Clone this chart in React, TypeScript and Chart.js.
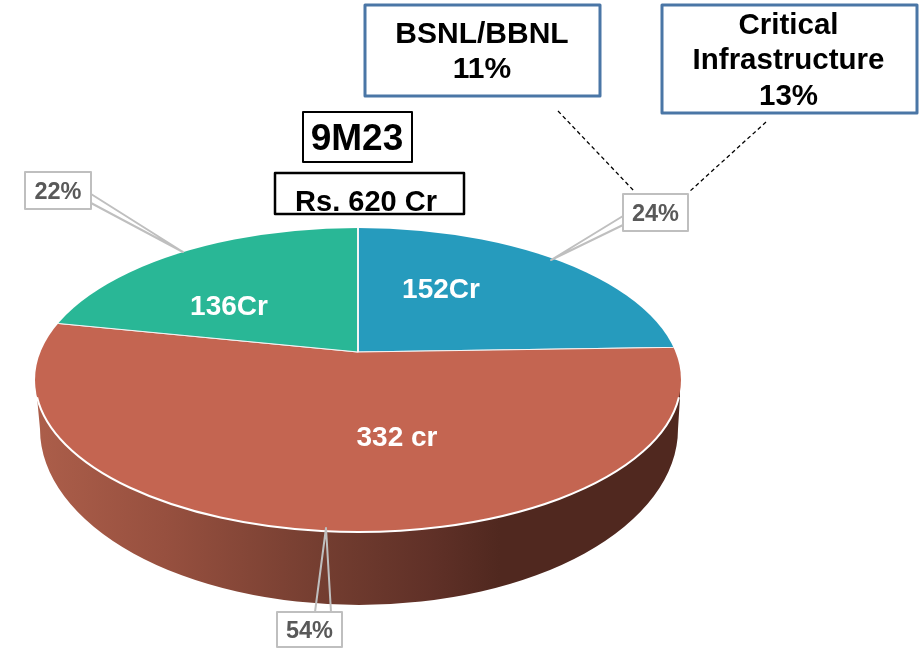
import React, { useEffect, useRef } from "react";
import { Chart, registerables } from "chart.js";

Chart.register(...registerables);

const sliceLabels = ["152Cr", "332 cr", "136Cr"];
const sliceValues = [152, 332, 136];
const sliceColors = ["#269BBD", "#C46551", "#29B796"];
const percentLabels = ["24%", "54%", "22%"];
const bsnlLines = ["BSNL/BBNL", "11%"];
const criticalLines = ["Critical", "Infrastructure", "13%"];
const titleText = "9M23";
const totalText = "Rs. 620 Cr";

const W = 923;
const H = 648;
const APEX = { x: 358, y: 352 };
const SQUASH = 0.49;
const TOP = { x: 358, y: 380, rx: 323, ry: 152 };
const BASE = { x: 359, y: 429, rx: 319, ry: 176 };
const FONT = '"Liberation Sans", Arial, sans-serif';

type Pt = [number, number];

const sliceTextPos: Pt[] = [
  [441, 288],
  [397, 436],
  [229, 305],
];
const percentBoxes = [
  { x: 623, y: 194, w: 65, h: 37, a: [623, 216] as Pt, b: [623, 225] as Pt, tip: [551, 260] as Pt },
  { x: 277, y: 612, w: 65, h: 35, a: [315, 612] as Pt, b: [331, 612] as Pt, tip: [326, 528] as Pt },
  { x: 25, y: 172, w: 66, h: 37, a: [91, 194] as Pt, b: [91, 203] as Pt, tip: [183, 252] as Pt },
];

function textBox(
  ctx: CanvasRenderingContext2D,
  box: { x: number; y: number; w: number; h: number },
  color: string,
  lw: number
) {
  ctx.fillStyle = "#fff";
  ctx.strokeStyle = color;
  ctx.lineWidth = lw;
  ctx.fillRect(box.x, box.y, box.w, box.h);
  ctx.strokeRect(box.x, box.y, box.w, box.h);
}

function lines(
  ctx: CanvasRenderingContext2D,
  rows: string[],
  cx: number,
  baselines: number[],
  size: number,
  color: string
) {
  ctx.font = `bold ${size}px ${FONT}`;
  ctx.fillStyle = color;
  ctx.textAlign = "center";
  ctx.textBaseline = "alphabetic";
  rows.forEach((r, i) => ctx.fillText(r, cx, baselines[i]));
}

const pie3d = {
  id: "pie3d",
  beforeDatasetsDraw(chart: any) {
    const ctx: CanvasRenderingContext2D = chart.ctx;
    // side wall
    const g = ctx.createLinearGradient(TOP.x - TOP.rx, 0, TOP.x + TOP.rx, 0);
    g.addColorStop(0, "#AC5E4A");
    g.addColorStop(0.2, "#97503F");
    g.addColorStop(0.45, "#733D30");
    g.addColorStop(0.62, "#5F3027");
    g.addColorStop(0.72, "#50281F");
    g.addColorStop(1, "#50281F");
    ctx.save();
    ctx.fillStyle = g;
    ctx.beginPath();
    ctx.moveTo(36, 380);
    ctx.lineTo(37, 397);
    ctx.lineTo(BASE.x - BASE.rx, BASE.y);
    ctx.ellipse(BASE.x, BASE.y, BASE.rx, BASE.ry, 0, Math.PI, 0, true);
    ctx.lineTo(680, 397);
    ctx.lineTo(680, 380);
    ctx.closePath();
    ctx.fill();
    ctx.restore();

    // top face: the library's arcs, squashed and clipped to the ellipse
    ctx.save();
    ctx.beginPath();
    ctx.ellipse(TOP.x, TOP.y, TOP.rx, TOP.ry, 0, 0, Math.PI * 2);
    ctx.clip();
    ctx.translate(APEX.x, APEX.y);
    ctx.scale(1, SQUASH);
    ctx.translate(-APEX.x, -APEX.y);
  },
  afterDatasetsDraw(chart: any) {
    const ctx: CanvasRenderingContext2D = chart.ctx;
    ctx.restore();

    // white rim between top face and wall
    ctx.save();
    ctx.strokeStyle = "#fff";
    ctx.lineWidth = 2;
    ctx.beginPath();
    ctx.ellipse(TOP.x, TOP.y, TOP.rx, TOP.ry, 0, (6.5 * Math.PI) / 180, (173.5 * Math.PI) / 180);
    ctx.stroke();
    ctx.restore();
  },
  afterDraw(chart: any) {
    const ctx: CanvasRenderingContext2D = chart.ctx;
    ctx.save();

    // slice values
    sliceLabels.forEach((t, i) => {
      lines(ctx, [t], sliceTextPos[i][0], [sliceTextPos[i][1] + 10], 28, "#fff");
    });

    // percentage callouts
    percentBoxes.forEach((b, i) => {
      ctx.strokeStyle = "#BFBFBF";
      ctx.lineWidth = 2;
      ctx.lineJoin = "round";
      ctx.beginPath();
      ctx.moveTo(b.a[0], b.a[1]);
      ctx.lineTo(b.tip[0], b.tip[1]);
      ctx.lineTo(b.b[0], b.b[1]);
      ctx.stroke();
      textBox(ctx, b, "#BFBFBF", 2);
      lines(ctx, [percentLabels[i]], b.x + b.w / 2, [b.y + b.h / 2 + 8.5], 23.5, "#595959");
    });

    // dashed leaders
    ctx.strokeStyle = "#000";
    ctx.lineWidth = 1.3;
    ctx.setLineDash([4, 3]);
    ctx.beginPath();
    ctx.moveTo(558, 111);
    ctx.lineTo(635, 192);
    ctx.moveTo(766, 122);
    ctx.lineTo(689, 192);
    ctx.stroke();
    ctx.setLineDash([]);

    // annotation boxes
    textBox(ctx, { x: 365, y: 5, w: 235, h: 91 }, "#4A76A6", 3);
    lines(ctx, bsnlLines, 482, [43, 78], 30, "#000");
    textBox(ctx, { x: 662, y: 5, w: 255, h: 108 }, "#4A76A6", 3);
    lines(ctx, criticalLines, 788.5, [34, 69, 105], 29.5, "#000");

    textBox(ctx, { x: 303, y: 112, w: 109, h: 50 }, "#000", 2);
    lines(ctx, [titleText], 357, [150], 37, "#000");
    textBox(ctx, { x: 275, y: 173, w: 189, h: 41 }, "#000", 2.5);
    lines(ctx, [totalText], 366, [211], 29, "#000");

    ctx.restore();
  },
};

export default function App() {
  const ref = useRef<HTMLCanvasElement>(null);
  useEffect(() => {
    const chart = new Chart(ref.current as HTMLCanvasElement, {
      type: "pie",
      data: {
        labels: sliceLabels,
        datasets: [
          {
            data: sliceValues,
            backgroundColor: sliceColors,
            borderColor: "#F4F4F4",
            borderWidth: 2,
            clip: false,
          } as any,
        ],
      },
      options: {
        responsive: false,
        animation: false,
        events: [],
        radius: 420,
        layout: {
          padding: { left: 0, right: W - 2 * APEX.x, top: 2 * APEX.y - H, bottom: 0 },
        },
        plugins: { legend: { display: false }, tooltip: { enabled: false }, title: { display: false } },
      } as any,
      plugins: [pie3d as any],
    });
    return () => chart.destroy();
  }, []);
  return (
    <div style={{ position: "absolute", left: 0, top: 0, width: W, height: H, background: "#fff" }}>
      <canvas ref={ref} width={W} height={H} style={{ display: "block" }} />
    </div>
  );
}
